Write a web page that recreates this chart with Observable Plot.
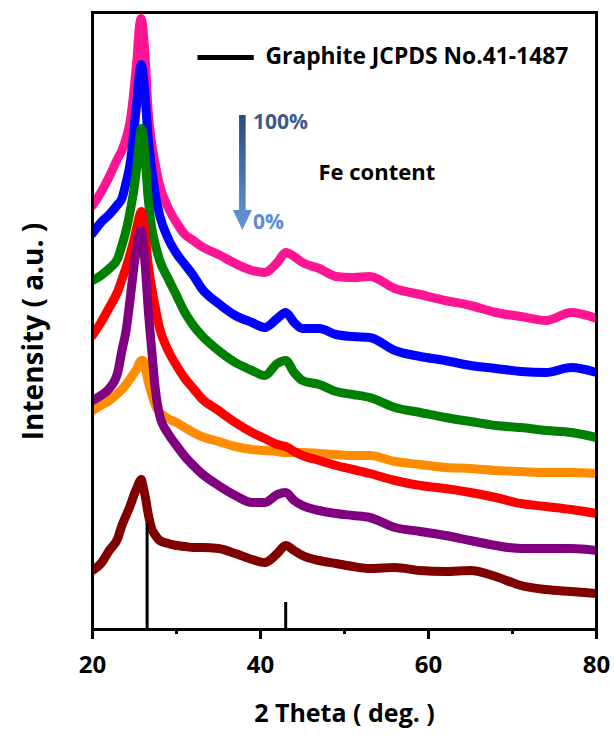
<!DOCTYPE html>
<html>
<head>
<meta charset="utf-8">
<script src="https://cdn.jsdelivr.net/npm/d3@7"></script>
<script src="https://cdn.jsdelivr.net/npm/@observablehq/plot@0.6"></script>
<style>
  html, body { margin: 0; padding: 0; background: #fff; }
  #chart { width: 614px; height: 736px; }
</style>
</head>
<body>
<div id="chart"></div>
<script>
// 2θ sampling positions (degrees)
const theta = [20, 21, 22, 23, 23.5, 24, 24.5, 25, 25.3, 25.6,
  25.8, 26, 26.3, 26.6, 27, 27.5, 28, 29, 30, 31,
  32, 33, 35, 37, 39, 40.5, 42, 43, 44, 45,
  47, 49, 51, 53, 56, 59, 62, 65, 68, 71,
  74, 77, 80];

// Stacked XRD intensities (a.u., offset patterns), from highest to lowest Fe content
const pinkPattern = [424, 437, 453, 471, 479, 491, 509, 544, 571, 604,
  611, 601, 567, 521, 489, 464, 444, 422, 407, 395,
  389, 383, 375, 366, 359, 357, 367, 377, 373, 367,
  361, 353, 352, 353, 341, 335, 329, 324, 317, 313,
  309, 317, 311];
const bluePattern = [396, 407, 415, 425, 431, 447, 467, 504, 529, 557,
  565, 557, 529, 494, 464, 434, 414, 391, 376, 365,
  354, 341, 326, 314, 307, 302, 311, 317, 307, 301,
  301, 295, 293, 292, 279, 273, 269, 264, 261, 258,
  257, 262, 257];
const greenPattern = [349, 354, 361, 371, 384, 399, 419, 444, 464, 489,
  501, 494, 469, 434, 404, 384, 369, 351, 334, 317,
  304, 294, 279, 267, 259, 254, 266, 269, 257, 249,
  245, 238, 235, 232, 222, 217, 212, 208, 204, 202,
  199, 197, 192];
const redPattern = [294, 307, 322, 338, 350, 362, 376, 392, 403, 414,
  418, 413, 394, 367, 344, 321, 301, 279, 264, 251,
  241, 231, 219, 207, 197, 191, 185, 183, 178, 174,
  169, 164, 160, 156, 149, 144, 141, 137, 132, 126,
  123, 120, 116];
const orangePattern = [219, 224, 229, 236, 240, 245, 251, 257, 261, 267,
  269, 269, 261, 249, 237, 224, 217, 211, 207, 202,
  197, 193, 188, 183, 180, 179, 178, 177, 177, 177,
  176, 175, 174, 174, 168, 165, 162, 161, 159, 158,
  157, 157, 156];
const purplePattern = [229, 234, 241, 257, 279, 299, 332, 367, 384, 397,
  399, 389, 361, 324, 284, 239, 214, 196, 184, 173,
  164, 156, 144, 134, 127, 127, 135, 137, 129, 124,
  119, 116, 114, 112, 102, 98, 94, 89, 84, 81,
  81, 81, 79];
const maroonPattern = [59, 66, 79, 91, 104, 114, 124, 136, 142, 148,
  150, 144, 132, 117, 102, 94, 89, 86, 84, 83,
  82, 82, 81, 76, 70, 67, 76, 84, 79, 74,
  69, 66, 63, 61, 62, 59, 58, 59, 53, 44,
  40, 38, 36];

// Sample keys in drawing order (later series sit on top)
const sampleNames = ["S1", "S2", "S3", "S5", "S4", "S6", "S7"];
const sampleColors = ["#ff1493", "#0000ff", "#008000", "#ff8c00", "#ff0000", "#800080", "#800000"];
const patterns = [pinkPattern, bluePattern, greenPattern, orangePattern, redPattern, purplePattern, maroonPattern];

// Graphite reference reflections (JCPDS No. 41-1487)
const refTheta = [26.5, 43.0];
const refHeight = [106, 27];

// Axis ticks
const majorTicks = [20, 40, 60, 80];
const minorTicks = [30, 50, 70];

// Annotation anchors in data units
const legendLine = {x1: 32.5, x2: 39.2, y: 572};
const legendText = {x: 40.6, y: 573, text: "Graphite JCPDS No.41-1487"};
const arrowSpec = {x: 37.9, from: 514, to: 399};
const arrowTop = {x: 39.1, y: 507, text: "100%"};
const arrowBottom = {x: 39.1, y: 407, text: "0%"};
const feLabel = {x: 46.9, y: 457, text: "Fe content"};

const rows = [];
patterns.forEach((values, s) => {
  values.forEach((v, i) => rows.push({sample: sampleNames[s], theta: theta[i], intensity: v}));
});
const refs = refTheta.map((t, i) => ({theta: t, height: refHeight[i]}));

const font = "'Open Sans', sans-serif";

const chart = Plot.plot({
  width: 614,
  height: 736,
  marginLeft: 92,
  marginRight: 18,
  marginTop: 12,
  marginBottom: 107,
  style: {fontFamily: font, background: "#fff", color: "#000"},
  x: {domain: [20, 80]},
  y: {domain: [0, 617], axis: null},
  color: {domain: sampleNames, range: sampleColors},
  marks: [
    Plot.line(rows, {
      x: "theta", y: "intensity", z: "sample", stroke: "sample",
      strokeWidth: 9, strokeLinejoin: "round", curve: "monotone-x", clip: true
    }),
    Plot.ruleX(refs, {x: "theta", y1: 0, y2: "height", stroke: "#000", strokeWidth: 3}),
    Plot.frame({stroke: "#000", strokeWidth: 3}),
    Plot.axisX({
      ticks: majorTicks, tickSize: 10, tickPadding: 16, strokeWidth: 3,
      fontSize: 24, fontWeight: "bold", label: null
    }),
    Plot.axisX({
      ticks: minorTicks, tickSize: 5, strokeWidth: 3,
      tickFormat: () => "", label: null
    }),
    Plot.text(["2 Theta ( deg. )"], {
      frameAnchor: "bottom", dy: 84, lineAnchor: "middle",
      fontSize: 25, fontWeight: "bold", fill: "#000"
    }),
    Plot.link([legendLine], {x1: "x1", x2: "x2", y1: "y", y2: "y", stroke: "#000", strokeWidth: 5}),
    Plot.text([legendText], {x: "x", y: "y", text: "text", textAnchor: "start", lineAnchor: "middle",
      fontSize: 22.8, fontWeight: "bold", fill: "#000"}),
    Plot.text([arrowTop], {x: "x", y: "y", text: "text", textAnchor: "start", lineAnchor: "middle",
      fontSize: 21, fontWeight: "bold", fill: "#3b5b90"}),
    Plot.text([arrowBottom], {x: "x", y: "y", text: "text", textAnchor: "start", lineAnchor: "middle",
      fontSize: 21, fontWeight: "bold", fill: "#5b8dd3"}),
    Plot.text([feLabel], {x: "x", y: "y", text: "text", textAnchor: "start", lineAnchor: "middle",
      fontSize: 22, fontWeight: "bold", fill: "#000"})
  ]
});

const sx = chart.scale("x");
const sy = chart.scale("y");
const svg = d3.select(chart);

// Vertical intensity title, centred beside the frame
const frameMidY = (sy.apply(0) + sy.apply(617)) / 2;
svg.append("text")
  .attr("transform", `translate(33,${frameMidY + 11}) rotate(-90)`)
  .attr("text-anchor", "middle")
  .attr("dy", "0.35em")
  .attr("font-family", font)
  .attr("font-size", 28)
  .attr("font-weight", "bold")
  .attr("fill", "#000")
  .text("Intensity ( a.u. )");

// Gradient arrow for the Fe content direction
const ax = sx.apply(arrowSpec.x);
const yTop = sy.apply(arrowSpec.from);
const yTip = sy.apply(arrowSpec.to);
const headLen = 20, headHalf = 9.5, shaftHalf = 3.3;
const defs = svg.append("defs");
const grad = defs.append("linearGradient")
  .attr("id", "fe-arrow-grad")
  .attr("gradientUnits", "userSpaceOnUse")
  .attr("x1", 0).attr("y1", yTop).attr("x2", 0).attr("y2", yTip);
grad.append("stop").attr("offset", "0%").attr("stop-color", "#2c4a7e");
grad.append("stop").attr("offset", "100%").attr("stop-color", "#6399dc");
const g = svg.append("g");
g.append("rect")
  .attr("x", ax - shaftHalf).attr("y", yTop)
  .attr("width", shaftHalf * 2).attr("height", yTip - headLen - yTop + 1)
  .attr("fill", "url(#fe-arrow-grad)");
g.append("path")
  .attr("d", `M${ax - headHalf},${yTip - headLen}L${ax + headHalf},${yTip - headLen}L${ax},${yTip}Z`)
  .attr("fill", "url(#fe-arrow-grad)");

document.getElementById("chart").appendChild(chart);
</script>
</body>
</html>
